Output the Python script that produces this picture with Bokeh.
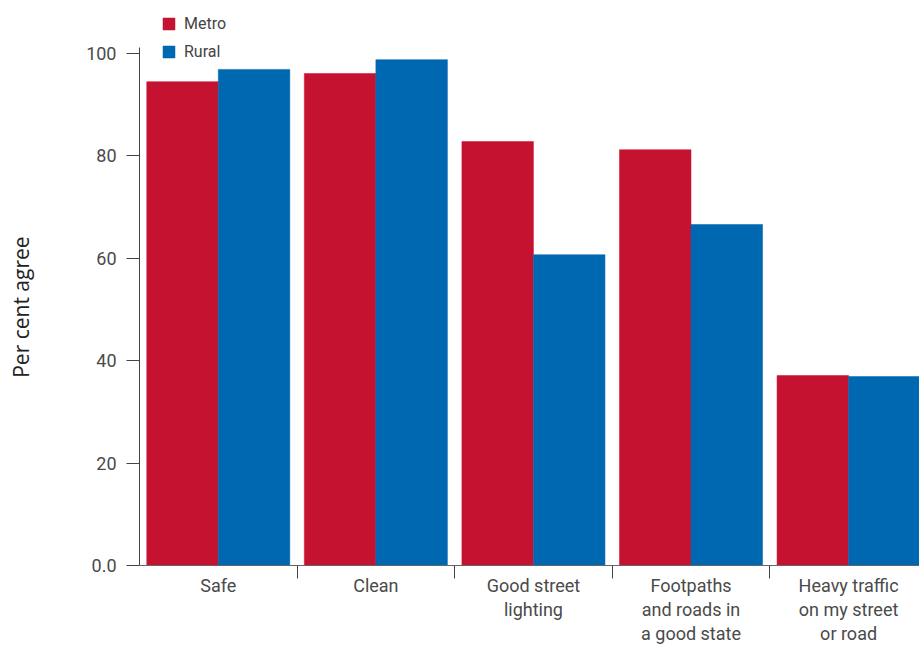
from bokeh.plotting import figure
from bokeh.models import Range1d, FixedTicker, Legend, LegendItem, ColumnDataSource
from bokeh.transform import dodge
from bokeh.embed import file_html
from bokeh.resources import INLINE

categories = ["Safe", "Clean", "Good street\nlighting",
              "Footpaths\nand roads in\na good state",
              "Heavy traffic\non my street\nor road"]
series = ["Metro", "Rural"]
metro = [94.5, 96.1, 82.8, 81.2, 37.1]
rural = [96.9, 98.8, 60.7, 66.6, 36.9]
y_ticks = [0, 20, 40, 60, 80, 100]
y_tick_labels = ["0.0", "20", "40", "60", "80", "100"]
y_title = "Per cent agree"
colors = ["#C41230", "#0067B1"]

pos = list(range(len(categories)))
src = ColumnDataSource(dict(x=pos, metro=metro, rural=rural))

p = figure(width=919, height=648,
           x_range=Range1d(-0.5, 4.45), y_range=Range1d(0, 108.4),
           output_backend="svg", toolbar_location=None,
           min_border_left=139, min_border_right=0,
           min_border_top=10, min_border_bottom=83)

bw = 0.454
r1 = p.vbar(x=dodge('x', -bw / 2, range=p.x_range), top='metro', width=bw,
            source=src, fill_color=colors[0], line_color=colors[0], line_width=0.5)
r2 = p.vbar(x=dodge('x', bw / 2, range=p.x_range), top='rural', width=bw,
            source=src, fill_color=colors[1], line_color=colors[1], line_width=0.5)

p.outline_line_color = None
p.xgrid.grid_line_color = None
p.ygrid.grid_line_color = None
p.background_fill_color = "white"
p.border_fill_color = "white"

# y axis (axis line stops at the top of the value scale)
ya = p.yaxis[0]
ya.ticker = FixedTicker(ticks=y_ticks)
ya.bounds = (0, 101.2)
ya.major_label_overrides = dict(zip(y_ticks, y_tick_labels))
ya.axis_line_color = "#444444"
ya.major_tick_line_color = "#444444"
ya.major_tick_out = 13
ya.major_tick_in = 0
ya.minor_tick_line_color = None
ya.major_label_text_font = "Roboto"
ya.major_label_text_font_size = "18px"
ya.major_label_text_color = "#4a4a4a"
ya.major_label_standoff = 10
# trailing no-break spaces centre the visible title on the 0-100 scale
ya.axis_label = y_title + "\u00a0" * 7
ya.axis_label_text_font = "Open Sans"
ya.axis_label_text_font_size = "21px"
ya.axis_label_text_font_style = "normal"
ya.axis_label_text_color = "#222222"
ya.axis_label_standoff = 48

# x axis
xa = p.xaxis[0]
xa.ticker = FixedTicker(ticks=pos, minor_ticks=[i + 0.5 for i in pos[:-1]])
xa.major_label_overrides = dict(zip(pos, categories))
xa.axis_line_color = "#666666"
xa.major_tick_out = 0
xa.major_tick_in = 0
xa.major_tick_line_color = None
xa.minor_tick_out = 13
xa.minor_tick_in = 0
xa.minor_tick_line_color = "#444444"
xa.major_label_text_font = "Roboto"
xa.major_label_text_font_size = "18px"
xa.major_label_text_color = "#4a4a4a"
xa.major_label_text_line_height = 1.16
xa.major_label_standoff = -4

legend = Legend(items=[LegendItem(label=series[0], renderers=[r1]),
                       LegendItem(label=series[1], renderers=[r2])],
                location=(22, 504))
legend.glyph_width = 15
legend.glyph_height = 15
legend.label_height = 20
legend.label_text_font = "Roboto"
legend.label_text_font_size = "16px"
legend.label_text_color = "#444444"
legend.label_standoff = 8
legend.spacing = 8
legend.padding = 0
legend.margin = 0
legend.background_fill_alpha = 0
legend.border_line_alpha = 0
p.add_layout(legend)

open("out.html", "w").write(file_html(p, INLINE))
